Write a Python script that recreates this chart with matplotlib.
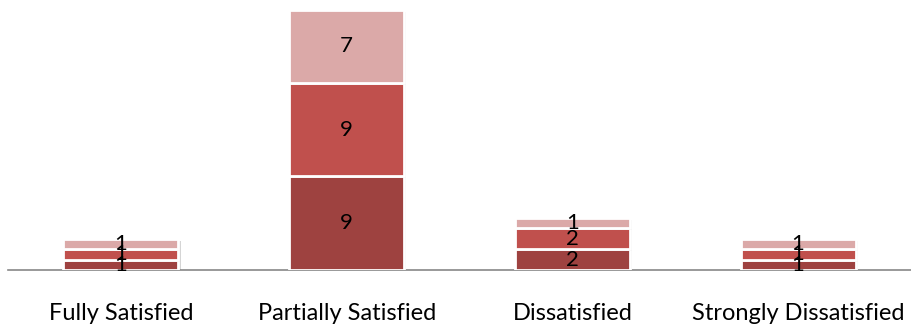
import matplotlib.pyplot as plt
import matplotlib.patheffects as pe
from matplotlib import font_manager
import numpy as np

categories = ["Fully Satisfied", "Partially Satisfied", "Dissatisfied", "Strongly Dissatisfied"]
series_1 = [1, 9, 2, 1]
series_2 = [1, 9, 2, 1]
series_3 = [1, 7, 1, 1]
colors = ["#9E4240", "#C0504D", "#DBA9A8"]

# narrow font if there is one, Lato otherwise
names = {f.name for f in font_manager.fontManager.ttflist}
font = "Liberation Sans Narrow" if "Liberation Sans Narrow" in names else "Lato"

fig = plt.figure(figsize=(9.11, 3.28), dpi=100)
ax = fig.add_axes([8 / 911, 58 / 328, 903 / 911, 260 / 328])

x = np.arange(len(categories))
bottom = np.zeros(len(categories))
for vals, col in zip([series_1, series_2, series_3], colors):
    bars = ax.bar(x, vals, width=0.51, bottom=bottom, color=col,
                  edgecolor="white", linewidth=2, zorder=3)
    for b in bars:
        b.set_path_effects([pe.SimplePatchShadow(offset=(1.5, -1.5), shadow_rgbFace="#888888", alpha=0.35),
                            pe.Normal()])
    for xi, v, b0 in zip(x, vals, bottom):
        ax.text(xi, b0 + v / 2, str(v), ha="center", va="center",
                fontsize=16, family=font, zorder=5)
    bottom += np.array(vals)

ax.set_xlim(-0.5, 3.5)
ax.set_ylim(0, 25)
ax.set_yticks([])
ax.set_xticks(x)
ax.set_xticklabels(categories, fontsize=17, family=font)
ax.tick_params(axis="x", length=0, pad=24)
for s in ["top", "right", "left"]:
    ax.spines[s].set_visible(False)
ax.spines["bottom"].set_color("#888888")
ax.spines["bottom"].set_linewidth(1.2)

fig.savefig("out.png", dpi=100)
